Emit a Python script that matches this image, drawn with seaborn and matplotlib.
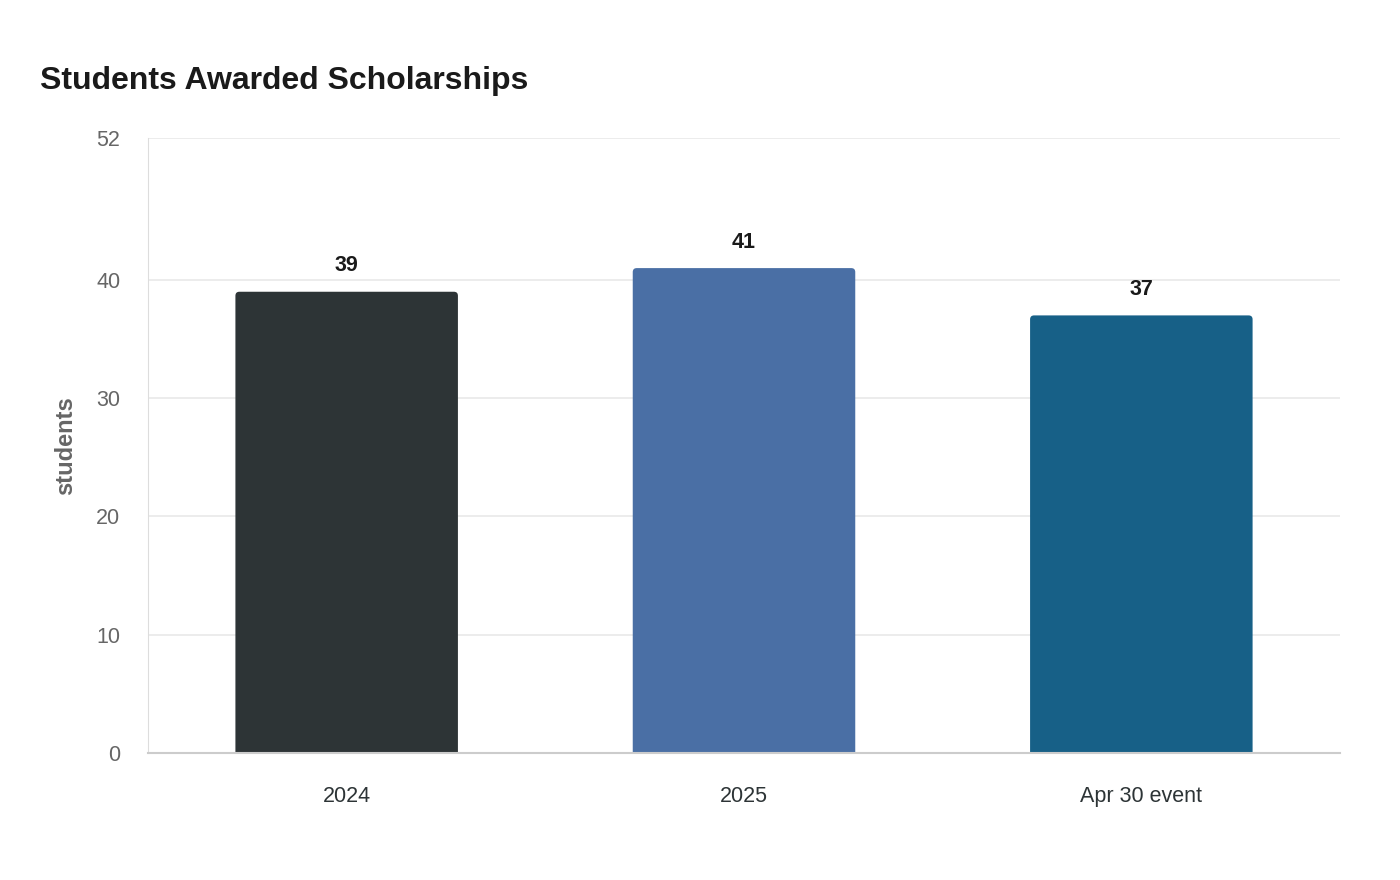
import matplotlib
matplotlib.use("Agg")
import matplotlib.pyplot as plt
import seaborn as sns
import pandas as pd
from matplotlib.patches import FancyBboxPatch

categories = ["2024", "2025", "Apr 30 event"]
students = [39, 41, 37]
bar_colors = ["#2d3436", "#4a6fa5", "#176087"]
y_ticks = [0, 10, 20, 30, 40, 52]

sns.set_style("white")
plt.rcParams["font.family"] = ["Liberation Sans", "DejaVu Sans"]

df = pd.DataFrame({"category": categories, "students": students})

fig = plt.figure(figsize=(14, 8.8), dpi=100)
ax = fig.add_axes([148 / 1400, 127 / 880, 1192 / 1400, 615 / 880])

sns.barplot(data=df, x="category", y="students", hue="category",
            palette=bar_colors, width=0.56, legend=False, ax=ax, saturation=1)

ax.set_xlim(-0.5, 2.5)
ax.set_ylim(0, 52)

# swap plain rectangles for ones with rounded top corners
r_x = 0.01
aspect = (52 / 615) / (3 / 1192)
for p in list(ax.patches):
    x, w, h = p.get_x(), p.get_width(), p.get_height()
    fc = p.get_facecolor()
    p.remove()
    pad_y = r_x * aspect
    box = FancyBboxPatch((x, -pad_y), w, h + pad_y,
                         boxstyle=f"round,pad=0,rounding_size={r_x}",
                         mutation_aspect=aspect, facecolor=fc,
                         edgecolor="none", zorder=2, clip_on=True)
    ax.add_patch(box)

for i, v in enumerate(students):
    ax.text(i, v + 1.3, str(v), ha="center", va="bottom", fontsize=15.5,
            fontweight="bold", color="#1a1a1a")

ax.set_yticks(y_ticks)
ax.yaxis.grid(True, color="#ebebeb", linewidth=1.3, zorder=0)
ax.set_axisbelow(True)
ax.tick_params(axis="y", length=11, color="#ebebeb", width=1.3,
               labelsize=15.5, labelcolor="#666666", pad=9)
ax.tick_params(axis="x", length=0, labelsize=15.5, labelcolor="#2d3436", pad=24)

for side in ["top", "right"]:
    ax.spines[side].set_visible(False)
ax.spines["left"].set_color("#dddddd")
ax.spines["left"].set_linewidth(0.8)
ax.spines["bottom"].set_color("#cccccc")
ax.spines["bottom"].set_linewidth(1.5)

ax.set_xlabel("")
ax.set_ylabel("students", fontsize=17, fontweight="bold", color="#666666",
              labelpad=14)

fig.text(40 / 1400, 1 - 81 / 880, "Students Awarded Scholarships",
         fontsize=23, fontweight="bold", color="#1a1a1a", va="center", ha="left")

fig.savefig("out.png", dpi=100)
